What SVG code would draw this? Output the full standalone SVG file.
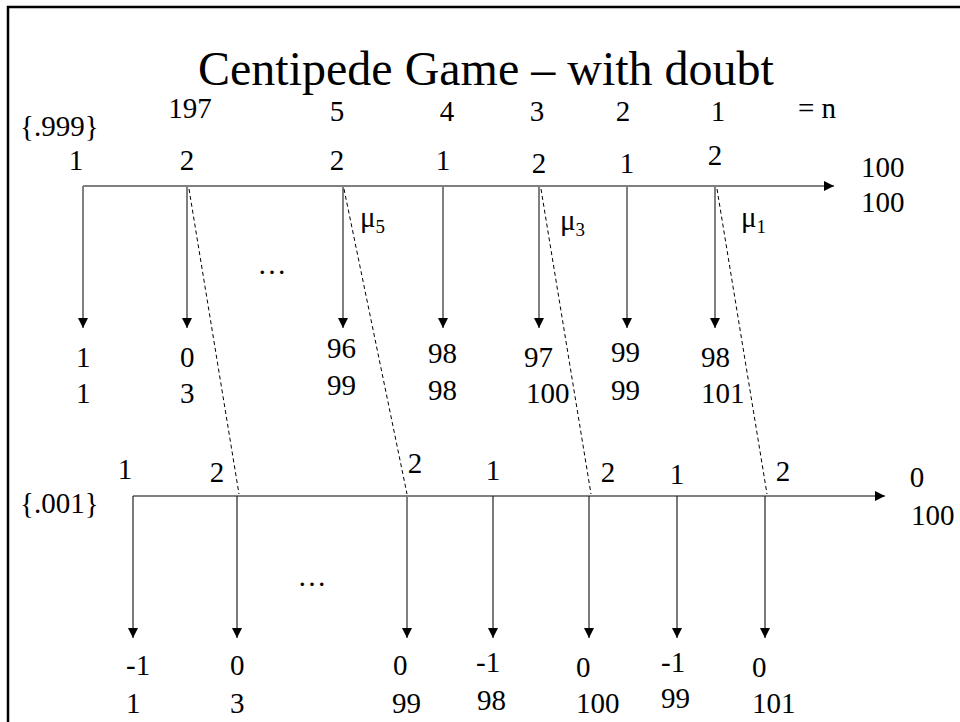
<svg xmlns="http://www.w3.org/2000/svg" width="960" height="722" viewBox="0 0 960 722">
<style>
text{font-family:"Liberation Serif","Times New Roman",serif;font-size:29px;fill:#000}
.t{font-size:48px}
.sub{font-size:19px}
.g{stroke:#808080;stroke-width:2;fill:none}
.k{stroke:#222;stroke-width:1.2;fill:none}
.d{stroke:#000;stroke-width:1;stroke-dasharray:4,3;fill:none}
</style>
<defs>
<marker id="ah" viewBox="0 0 10 10" refX="10" refY="5" markerWidth="10" markerHeight="10" markerUnits="userSpaceOnUse" orient="auto">
<path d="M0,0 L10,5 L0,10 z" fill="#000"/>
</marker>
</defs>
<rect x="8" y="7" width="960" height="730" fill="#fff" stroke="#000" stroke-width="2.5"/>
<text class="t" x="486" y="85" text-anchor="middle">Centipede Game – with doubt</text>
<g id="top-labels">
<text x="20" y="136">{.999}</text>
<text x="190" y="118" text-anchor="middle">197</text>
<text x="337" y="121" text-anchor="middle">5</text>
<text x="447" y="121" text-anchor="middle">4</text>
<text x="537" y="121" text-anchor="middle">3</text>
<text x="623" y="121" text-anchor="middle">2</text>
<text x="718" y="121" text-anchor="middle">1</text>
<text x="798" y="118">= n</text>
</g>
<g id="bottom-labels">
<text x="20" y="513">{.001}</text>
</g>
<g id="connectors">
<line class="g" x1="83" y1="186" x2="834" y2="186" marker-end="url(#ah)"/>
<line class="g" x1="83" y1="186" x2="83" y2="328" marker-end="url(#ah)"/>
<line class="g" x1="187" y1="186" x2="187" y2="328" marker-end="url(#ah)"/>
<line class="g" x1="343" y1="186" x2="343" y2="328" marker-end="url(#ah)"/>
<line class="g" x1="443" y1="186" x2="443" y2="328" marker-end="url(#ah)"/>
<line class="g" x1="539" y1="186" x2="539" y2="328" marker-end="url(#ah)"/>
<line class="g" x1="627" y1="186" x2="627" y2="328" marker-end="url(#ah)"/>
<line class="g" x1="715" y1="186" x2="715" y2="328" marker-end="url(#ah)"/>
<line class="g" x1="133" y1="496" x2="885" y2="496" marker-end="url(#ah)"/>
<line class="k" x1="133" y1="496" x2="133" y2="638" marker-end="url(#ah)"/>
<line class="k" x1="237" y1="496" x2="237" y2="638" marker-end="url(#ah)"/>
<line class="g" x1="407" y1="496" x2="407" y2="638" marker-end="url(#ah)"/>
<line class="k" x1="493" y1="496" x2="493" y2="638" marker-end="url(#ah)"/>
<line class="k" x1="589" y1="496" x2="589" y2="638" marker-end="url(#ah)"/>
<line class="k" x1="677" y1="496" x2="677" y2="638" marker-end="url(#ah)"/>
<line class="k" x1="765" y1="496" x2="765" y2="638" marker-end="url(#ah)"/>
<line class="d" x1="189" y1="189" x2="239" y2="494"/>
<line class="d" x1="344" y1="189" x2="407" y2="494"/>
<line class="d" x1="541" y1="189" x2="591" y2="494"/>
<line class="d" x1="717" y1="189" x2="767" y2="494"/>
</g>
<g id="n1"><text x="76" y="170" text-anchor="middle">1</text><text x="76" y="367">1</text><text x="76" y="403">1</text></g>
<g id="n2"><text x="187" y="170" text-anchor="middle">2</text><text x="180" y="367">0</text><text x="180" y="403">3</text></g>
<g id="n3"><text x="337" y="170" text-anchor="middle">2</text><text x="360" y="227">μ<tspan class="sub" dy="6">5</tspan></text><text x="327" y="358">96</text><text x="327" y="395">99</text></g>
<g id="n4"><text x="443" y="170" text-anchor="middle">1</text><text x="428" y="363">98</text><text x="428" y="400">98</text></g>
<g id="n5"><text x="539" y="173" text-anchor="middle">2</text><text x="560" y="230">μ<tspan class="sub" dy="6">3</tspan></text><text x="524" y="367">97</text><text x="526" y="403">100</text></g>
<g id="n6"><text x="627" y="173" text-anchor="middle">1</text><text x="611" y="362">99</text><text x="611" y="400">99</text></g>
<g id="n7"><text x="715" y="165" text-anchor="middle">2</text><text x="741" y="227">μ<tspan class="sub" dy="6">1</tspan></text><text x="701" y="367">98</text><text x="701" y="403">101</text></g>
<g id="n8"><text x="861" y="177">100</text><text x="861" y="212">100</text></g>
<text x="272" y="274" text-anchor="middle">…</text>
<g id="m1"><text x="125" y="479" text-anchor="middle">1</text><text x="126" y="675">-1</text><text x="126" y="713">1</text></g>
<g id="m2"><text x="217" y="482" text-anchor="middle">2</text><text x="230" y="675">0</text><text x="230" y="713">3</text></g>
<g id="m3"><text x="415" y="473" text-anchor="middle">2</text><text x="393" y="675">0</text><text x="392" y="713">99</text></g>
<g id="m4"><text x="493" y="480" text-anchor="middle">1</text><text x="476" y="672">-1</text><text x="477" y="710">98</text></g>
<g id="m5"><text x="608" y="482" text-anchor="middle">2</text><text x="576" y="677">0</text><text x="576" y="713">100</text></g>
<g id="m6"><text x="677" y="484" text-anchor="middle">1</text><text x="661" y="672">-1</text><text x="661" y="708">99</text></g>
<g id="m7"><text x="783" y="481" text-anchor="middle">2</text><text x="752" y="677">0</text><text x="752" y="713">101</text></g>
<g id="m8"><text x="917" y="487" text-anchor="middle">0</text><text x="911" y="525">100</text></g>
<text x="312" y="586" text-anchor="middle">…</text>
</svg>
